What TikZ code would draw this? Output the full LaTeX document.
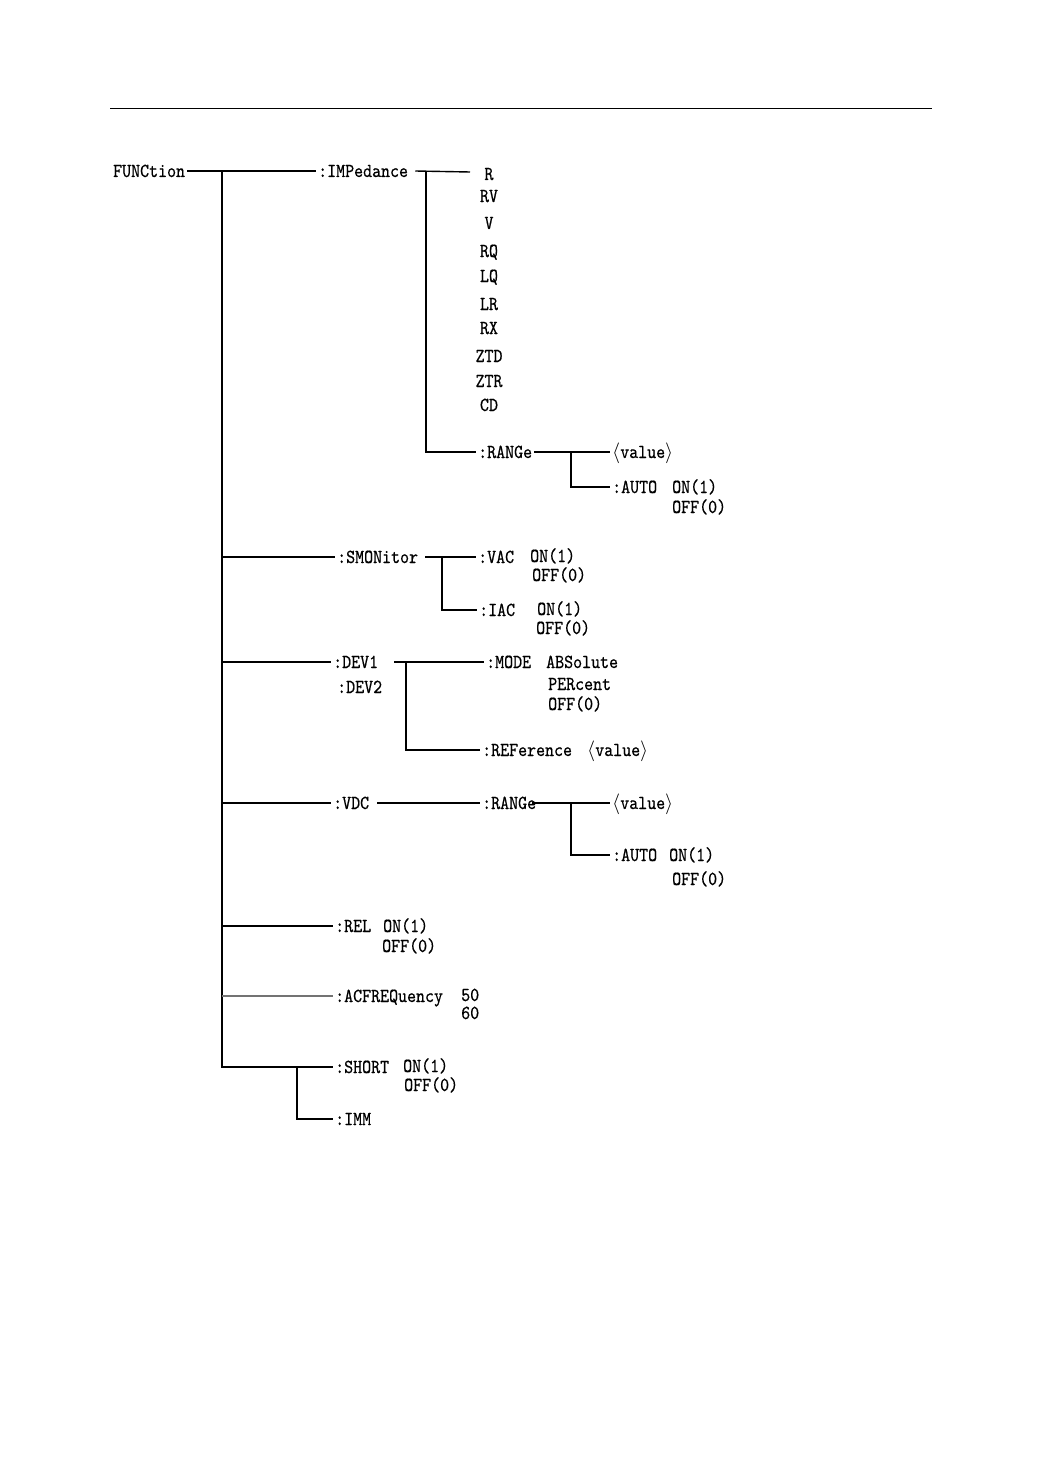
\documentclass[tikz,border=0pt]{standalone}
\usepackage{fontspec}
\newfontfamily\tfont[FakeStretch=0.86,FakeBold=0.5]{lmmono10-regular.otf}
\begin{document}
\begin{tikzpicture}[x=1pt,y=-1pt,
  t/.style={anchor=west,inner xsep=2pt,inner ysep=0pt,text height=12pt,text depth=0pt,
    font=\tfont\fontsize{19.9}{22}\selectfont},
  c/.style={t,anchor=center},
  ln/.style={line width=1.4pt,black}]
\useasboundingbox[fill=white] (0,0) rectangle (1043,1474);
\draw[line width=0.9pt] (110,108) -- (932,108);
% nodes
\node[t] (fn) at (111,171) {FUNCtion};
\node[t] (imp) at (316,171) {:IMPedance};
\foreach \n/\s/\y in {r/R/174,rv/RV/196,v/V/223,rq/RQ/251,lq/LQ/276,lr/LR/304,rx/RX/328,ztd/ZTD/356,ztr/ZTR/381,cd/CD/405}
  \node[c] (\n) at (489,\y) {\s};
\node[t] (rng1) at (476,452) {:RANGe};
\node[t] (val1) at (610,452) {$\langle$value$\rangle$};
\node[t] (auto1) at (610,487) {:AUTO};
\node[t] (on1) at (670,487) {ON(1)};
\node[t] (off1) at (670,507) {OFF(0)};
\node[t] (smon) at (335,557) {:SMONitor};
\node[t] (vac) at (476,557) {:VAC};
\node[t] (von) at (528,556) {ON(1)};
\node[t] (voff) at (530,575) {OFF(0)};
\node[t] (iac) at (477,610) {:IAC};
\node[t] (ion) at (535,609) {ON(1)};
\node[t] (ioff) at (534,628) {OFF(0)};
\node[t] (dev1) at (331,662) {:DEV1};
\node[t] (dev2) at (335,687) {:DEV2};
\node[t] (mode) at (484,662) {:MODE};
\node[t] (abs) at (544,662) {ABSolute};
\node[t] (per) at (546,684) {PERcent};
\node[t] (moff) at (546,704) {OFF(0)};
\node[t] (ref) at (480,750) {:REFerence};
\node[t] (rval) at (585,750) {$\langle$value$\rangle$};
\node[t] (vdc) at (331,803) {:VDC};
\node[t] (rng2) at (480,803) {:RANGe};
\node[t] (val2) at (610,803) {$\langle$value$\rangle$};
\node[t] (auto2) at (610,855) {:AUTO};
\node[t] (on2) at (667,855) {ON(1)};
\node[t] (off2) at (670,879) {OFF(0)};
\node[t] (rel) at (333,926) {:REL};
\node[t] (relon) at (381,926) {ON(1)};
\node[t] (reloff) at (380,946) {OFF(0)};
\node[t] (acf) at (333,996) {:ACFREQuency};
\node[t] (f50) at (459,995) {50};
\node[t] (f60) at (459,1013) {60};
\node[t] (short) at (333,1067) {:SHORT};
\node[t] (son) at (401,1066) {ON(1)};
\node[t] (soff) at (402,1085) {OFF(0)};
\node[t] (imm) at (333,1119) {:IMM};
% junctions
\coordinate (j0) at (222,171);
\coordinate (j1) at (426,172);
\coordinate (j1e) at (470,172);
\coordinate (j2) at (571,452);
\coordinate (j3) at (442,557);
\coordinate (j4) at (406,661);
\coordinate (j5) at (571,803);
\coordinate (j6) at (297,1067);
% connectors
\draw[ln] (fn.east) -- (imp.west);
\draw[ln] (j0) |- (short.west);
\draw[ln] (j0 |- smon.west) -- (smon.west);
\draw[ln] (j0 |- dev1.west) -- (dev1.west);
\draw[ln] (j0 |- vdc.west) -- (vdc.west);
\draw[ln] (j0 |- rel.west) -- (rel.west);
\draw[line width=1.4pt,black!55] (j0 |- acf.west) -- (acf.west);
\draw[ln] (j6) |- (imm.west);
\draw[ln] ([xshift=5pt]imp.east) -- (j1e);
\draw[ln] (j1) |- (rng1.west);
\draw[ln] (rng1.east) -- (val1.west);
\draw[ln] (j2) |- (auto1.west);
\draw[ln] ([xshift=5pt]smon.east) -- (vac.west);
\draw[ln] (j3) |- (iac.west);
\draw[ln] ([xshift=14pt]dev1.east) -- (mode.west);
\draw[ln] (j4) |- (ref.west);
\draw[ln] ([xshift=6pt]vdc.east) -- (rng2.west);
\draw[ln] ([xshift=-6pt]rng2.east) -- (val2.west);
\draw[ln] (j5) |- (auto2.west);
\end{tikzpicture}
\end{document}
